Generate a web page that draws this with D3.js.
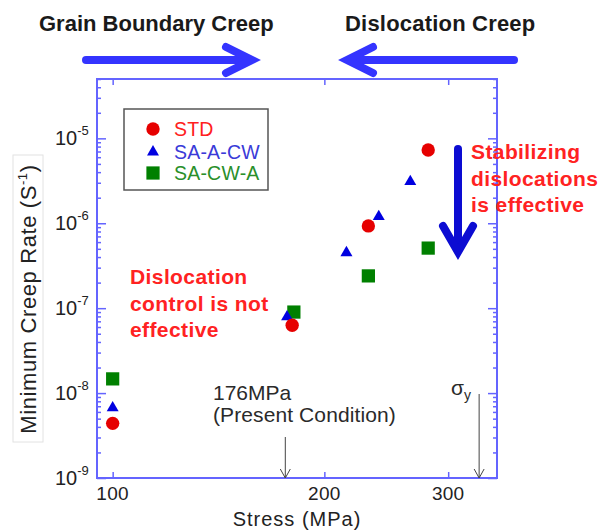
<!DOCTYPE html>
<html>
<head>
<meta charset="utf-8">
<script src="https://cdn.jsdelivr.net/npm/d3@7"></script>
<style>
  body { margin: 0; background: #fff; }
  text { font-family: Arial, "Liberation Sans", sans-serif; }
</style>
</head>
<body>
<svg id="chart" width="598" height="531"></svg>
<script>
// Minimum creep rate vs. applied stress for three processing routes
const seriesNames = ["STD", "SA-A-CW", "SA-CW-A"];

const stdStress = [100, 180, 231, 281];
const stdRate   = [4.4e-9, 6.3e-8, 9.3e-7, 7.3e-6];

const saacwStress = [100, 177, 215, 239, 265];
const saacwRate   = [6.7e-9, 7.9e-8, 4.5e-7, 1.2e-6, 3.1e-6];

const sacwaStress = [100, 181, 231, 281];
const sacwaRate   = [1.47e-8, 9.0e-8, 2.4e-7, 5.1e-7];

const xTickValues = [100, 200, 300];
const yTickExponents = [-9, -8, -7, -6, -5];

const presentStress = 176;   // present operating condition
const yieldStress = 332;     // sigma_y

const svg = d3.select("#chart");

const frame = { left: 97, right: 497, top: 79, bottom: 478 };

const x = d3.scaleLog().domain([95, 352]).range([frame.left, frame.right]);
const y = d3.scaleLog().domain([1e-9, 5e-5]).range([frame.bottom, frame.top]);

const axisColor = "#6464ff";

// ---- header: creep regime arrows ----
svg.append("text").attr("x", 39).attr("y", 31)
  .attr("font-size", 22).attr("font-weight", "bold").attr("fill", "#1a1a1a")
  .text("Grain Boundary Creep");
svg.append("text").attr("x", 345).attr("y", 31)
  .attr("font-size", 22).attr("font-weight", "bold").attr("fill", "#1a1a1a")
  .attr("letter-spacing", 0.2)
  .text("Dislocation Creep");

const regimeArrow = (x0, x1, yy) => {
  const dir = Math.sign(x1 - x0);
  const g = svg.append("g").attr("stroke", "#3434ff").attr("stroke-width", 8)
    .attr("fill", "none").attr("stroke-linecap", "round").attr("stroke-linejoin", "miter");
  g.append("line").attr("x1", x0).attr("y1", yy).attr("x2", x1 - dir * 4).attr("y2", yy);
  g.append("polyline").attr("points",
    `${x1 - dir * 26},${yy - 13} ${x1},${yy} ${x1 - dir * 26},${yy + 13}`);
};
regimeArrow(86, 252, 60);
regimeArrow(514, 347, 60);

// ---- y label box ----
svg.append("rect").attr("x", 13).attr("y", 155).attr("width", 30).attr("height", 287)
  .attr("fill", "#fff").attr("stroke", "#e2e2e2").attr("stroke-width", 1);
const yl = svg.append("text")
  .attr("transform", "translate(36,299) rotate(-90)")
  .attr("text-anchor", "middle").attr("font-size", 22).attr("fill", "#222")
  .attr("letter-spacing", 0.6);
yl.append("tspan").text("Minimum Creep Rate (S");
yl.append("tspan").attr("font-size", 13).attr("dy", -9).text("-1");
yl.append("tspan").attr("dy", 9).text(")");

// ---- axes (ticks point inward) ----
const minorTicks = [];
yTickExponents.forEach(e => {
  for (let m = 2; m <= 9; m++) {
    const v = m * Math.pow(10, e);
    if (v <= 5e-5) minorTicks.push(v);
  }
});
const majorTicks = yTickExponents.map(e => Math.pow(10, e));

const styleAxis = g => {
  g.select(".domain").remove();
  g.selectAll("line").attr("stroke", axisColor).attr("stroke-width", 1.5);
  g.selectAll("text").remove();
};

svg.append("g").attr("transform", `translate(${frame.left},0)`)
  .call(d3.axisLeft(y).tickValues(majorTicks).tickSize(-9)).call(styleAxis);
svg.append("g").attr("transform", `translate(${frame.left},0)`)
  .call(d3.axisLeft(y).tickValues(minorTicks).tickSize(-4)).call(styleAxis);
svg.append("g").attr("transform", `translate(${frame.right},0)`)
  .call(d3.axisRight(y).tickValues(majorTicks).tickSize(-9)).call(styleAxis);
svg.append("g").attr("transform", `translate(${frame.right},0)`)
  .call(d3.axisRight(y).tickValues(minorTicks).tickSize(-4)).call(styleAxis);
svg.append("g").attr("transform", `translate(0,${frame.bottom})`)
  .call(d3.axisBottom(x).tickValues(xTickValues).tickSize(-6)).call(styleAxis);
svg.append("g").attr("transform", `translate(0,${frame.top})`)
  .call(d3.axisTop(x).tickValues(xTickValues).tickSize(-6)).call(styleAxis);

svg.append("rect")
  .attr("x", frame.left).attr("y", frame.top)
  .attr("width", frame.right - frame.left).attr("height", frame.bottom - frame.top)
  .attr("fill", "none").attr("stroke", axisColor).attr("stroke-width", 2);

// tick labels
yTickExponents.forEach(e => {
  const t = svg.append("text").attr("x", 55).attr("y", y(Math.pow(10, e)) + 7)
    .attr("font-size", 20).attr("fill", "#222");
  t.append("tspan").text("10");
  t.append("tspan").attr("font-size", 13).attr("dy", -10).text(String(e));
});
xTickValues.forEach(v => {
  svg.append("text").attr("x", x(v)).attr("y", 500)
    .attr("text-anchor", "middle").attr("font-size", 19).attr("fill", "#222")
    .attr("letter-spacing", 0.3)
    .text(v);
});
svg.append("text").attr("x", 297).attr("y", 526)
  .attr("text-anchor", "middle").attr("font-size", 20).attr("fill", "#222")
  .attr("letter-spacing", 1)
  .text("Stress (MPa)");

// ---- reference stress arrows ----
const thinArrow = (xv, y0) => {
  const px = x(xv);
  const g = svg.append("g").attr("stroke", "#444").attr("stroke-width", 1).attr("fill", "none");
  g.append("line").attr("x1", px).attr("y1", y0).attr("x2", px).attr("y2", frame.bottom);
  g.append("polyline").attr("points",
    `${px - 5},${frame.bottom - 9} ${px},${frame.bottom} ${px + 5},${frame.bottom - 9}`);
};
thinArrow(presentStress, 437);
thinArrow(yieldStress, 394);

svg.append("text").attr("x", 213).attr("y", 400)
  .attr("font-size", 21).attr("fill", "#2a2a2a").text(presentStress + "MPa");
svg.append("text").attr("x", 213).attr("y", 422)
  .attr("font-size", 21).attr("fill", "#2a2a2a").attr("letter-spacing", 0.1)
  .text("(Present Condition)");
const sig = svg.append("text").attr("x", 451).attr("y", 395)
  .attr("font-size", 21).attr("fill", "#2a2a2a");
sig.append("tspan").text("σ");
sig.append("tspan").attr("font-size", 14).attr("dy", 5).text("y");

// ---- annotations ----
const red = "#ff2222";
const note = (lines, x0, y0) => {
  lines.forEach((s, i) => {
    svg.append("text").attr("x", x0).attr("y", y0 + i * 26.5)
      .attr("font-size", 21).attr("font-weight", "bold").attr("fill", red)
      .attr("letter-spacing", 0.4).text(s);
  });
};
note(["Dislocation", "control is not", "effective"], 130, 284);
note(["Stabilizing", "dislocations", "is effective"], 471, 159);

// big downward arrow
{
  const g = svg.append("g").attr("stroke", "#0c0cd2").attr("stroke-width", 8)
    .attr("fill", "none").attr("stroke-linecap", "round").attr("stroke-linejoin", "miter");
  g.append("line").attr("x1", 458).attr("y1", 149).attr("x2", 458).attr("y2", 248);
  g.append("polyline").attr("points", "443,226 458,252 473,226");
}

// ---- data markers ----
const colors = { circle: "#e60000", triangle: "#0000e0", square: "#008000" };
const sym = {
  circle: d3.symbol().type(d3.symbolCircle).size(140),
  triangle: d3.symbol().type(d3.symbolTriangle).size(62),
  square: d3.symbol().type(d3.symbolSquare).size(175)
};

const plotSeries = (xs, ys, shape) => {
  svg.append("g").selectAll("path")
    .data(xs.map((v, i) => [v, ys[i]]))
    .join("path")
    .attr("transform", d => `translate(${x(d[0])},${y(d[1])})`)
    .attr("d", sym[shape]())
    .attr("fill", colors[shape]);
};
plotSeries(sacwaStress, sacwaRate, "square");
plotSeries(saacwStress, saacwRate, "triangle");
plotSeries(stdStress, stdRate, "circle");

// ---- legend ----
const legend = svg.append("g");
legend.append("rect").attr("x", 124).attr("y", 109).attr("width", 144).attr("height", 81)
  .attr("fill", "#fff").attr("stroke", "#555").attr("stroke-width", 1.5);
const legendItems = [
  { name: seriesNames[0], shape: "circle", text: "#ff2020", cy: 129 },
  { name: seriesNames[1], shape: "triangle", text: "#3a3ad8", cy: 152 },
  { name: seriesNames[2], shape: "square", text: "#2a8f2a", cy: 173 }
];
legendItems.forEach(it => {
  legend.append("path").attr("transform", `translate(153,${it.cy})`)
    .attr("d", sym[it.shape]()).attr("fill", colors[it.shape]);
  legend.append("text").attr("x", 174).attr("y", it.cy + 7)
    .attr("font-size", 19.5).attr("fill", it.text).attr("letter-spacing", 0.2)
    .text(it.name);
});
</script>
</body>
</html>
